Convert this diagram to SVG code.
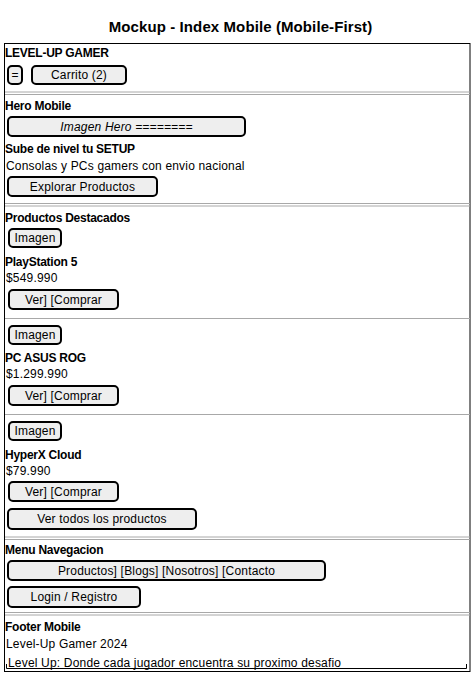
<svg xmlns="http://www.w3.org/2000/svg" width="475" height="677" viewBox="0 0 475 677">
<style>
text{font-family:"Liberation Sans",Arial,sans-serif;font-size:12px;fill:#000;letter-spacing:0.18px}
.t{font-size:15px;font-weight:bold;letter-spacing:0.1px}
.b{font-weight:bold;letter-spacing:-0.25px}
.btn{fill:#EEEEEE;stroke:#000;stroke-width:2}
.sep{stroke:#A8A8A8;stroke-width:1}
.c{text-anchor:middle}
</style>
<rect width="475" height="677" fill="#fff"/>
<text class="t c" x="240.5" y="31.5">Mockup - Index Mobile (Mobile-First)</text>
<rect x="4.5" y="43.5" width="465.5" height="628" fill="none" stroke="#000" stroke-width="1"/>
<g id="header">
<text class="b" x="5" y="57">LEVEL-UP GAMER</text>
<rect class="btn" x="8" y="66" width="14" height="18" rx="4"/>
<text class="c" x="15" y="79">=</text>
<rect class="btn" x="32" y="66" width="94" height="18" rx="4"/>
<text class="c" x="79" y="79">Carrito (2)</text>
</g>
<g id="separators">
<line class="sep" x1="5" y1="92" x2="470" y2="92"/><line class="sep" x1="5" y1="94.5" x2="470" y2="94.5"/>
<line class="sep" x1="5" y1="203.5" x2="470" y2="203.5"/><line class="sep" x1="5" y1="206" x2="470" y2="206"/>
<line class="sep" x1="5" y1="318.5" x2="470" y2="318.5"/>
<line class="sep" x1="5" y1="414.5" x2="470" y2="414.5"/>
<line class="sep" x1="5" y1="537" x2="470" y2="537"/><line class="sep" x1="5" y1="539.5" x2="470" y2="539.5"/>
<line class="sep" x1="5" y1="612.5" x2="470" y2="612.5"/><line class="sep" x1="5" y1="615" x2="470" y2="615"/>
</g>
<g id="hero">
<text class="b" x="5" y="110">Hero Mobile</text>
<rect class="btn" x="8" y="117" width="237" height="19" rx="4"/>
<text class="c" x="126.5" y="131" font-style="italic">Imagen Hero ========</text>
<text class="b" x="5" y="153">Sube de nivel tu SETUP</text>
<text x="6" y="170">Consolas y PCs gamers con envio nacional</text>
<rect class="btn" x="8" y="177" width="149" height="19" rx="4"/>
<text class="c" x="82.5" y="191">Explorar Productos</text>
</g>
<g id="productos">
<text class="b" x="5" y="222">Productos Destacados</text>
<rect class="btn" x="9" y="229" width="52" height="18" rx="4"/>
<text class="c" x="35" y="242">Imagen</text>
<text class="b" x="5" y="266">PlayStation 5</text>
<text x="6" y="282">$549.990</text>
<rect class="btn" x="9" y="290" width="109" height="19" rx="4"/>
<text class="c" x="63.5" y="304">Ver] [Comprar</text>
<rect class="btn" x="9" y="326" width="52" height="18" rx="4"/>
<text class="c" x="35" y="339">Imagen</text>
<text class="b" x="5" y="362">PC ASUS ROG</text>
<text x="6" y="378">$1.299.990</text>
<rect class="btn" x="9" y="386" width="109" height="19" rx="4"/>
<text class="c" x="63.5" y="400">Ver] [Comprar</text>
<rect class="btn" x="9" y="422" width="52" height="18" rx="4"/>
<text class="c" x="35" y="435">Imagen</text>
<text class="b" x="5" y="459">HyperX Cloud</text>
<text x="6" y="475">$79.990</text>
<rect class="btn" x="9" y="482" width="109" height="19" rx="4"/>
<text class="c" x="63.5" y="496">Ver] [Comprar</text>
<rect class="btn" x="8" y="509" width="188" height="20" rx="4"/>
<text class="c" x="102" y="523">Ver todos los productos</text>
</g>
<g id="menu">
<text class="b" x="5" y="554">Menu Navegacion</text>
<rect class="btn" x="8" y="561" width="317" height="19" rx="4"/>
<text class="c" x="166.5" y="575">Productos] [Blogs] [Nosotros] [Contacto</text>
<rect class="btn" x="8" y="587" width="132" height="20" rx="4"/>
<text class="c" x="74" y="601">Login / Registro</text>
</g>
<g id="footer">
<text class="b" x="5" y="631">Footer Mobile</text>
<text x="6" y="648">Level-Up Gamer 2024</text>
<text x="8" y="666.5">Level Up: Donde cada jugador encuentra su proximo desafio</text>
<path d="M6.5 664V668.5H466.5V664" fill="none" stroke="#000" stroke-width="1"/>
</g>
<g id="connectors"/>
</svg>
